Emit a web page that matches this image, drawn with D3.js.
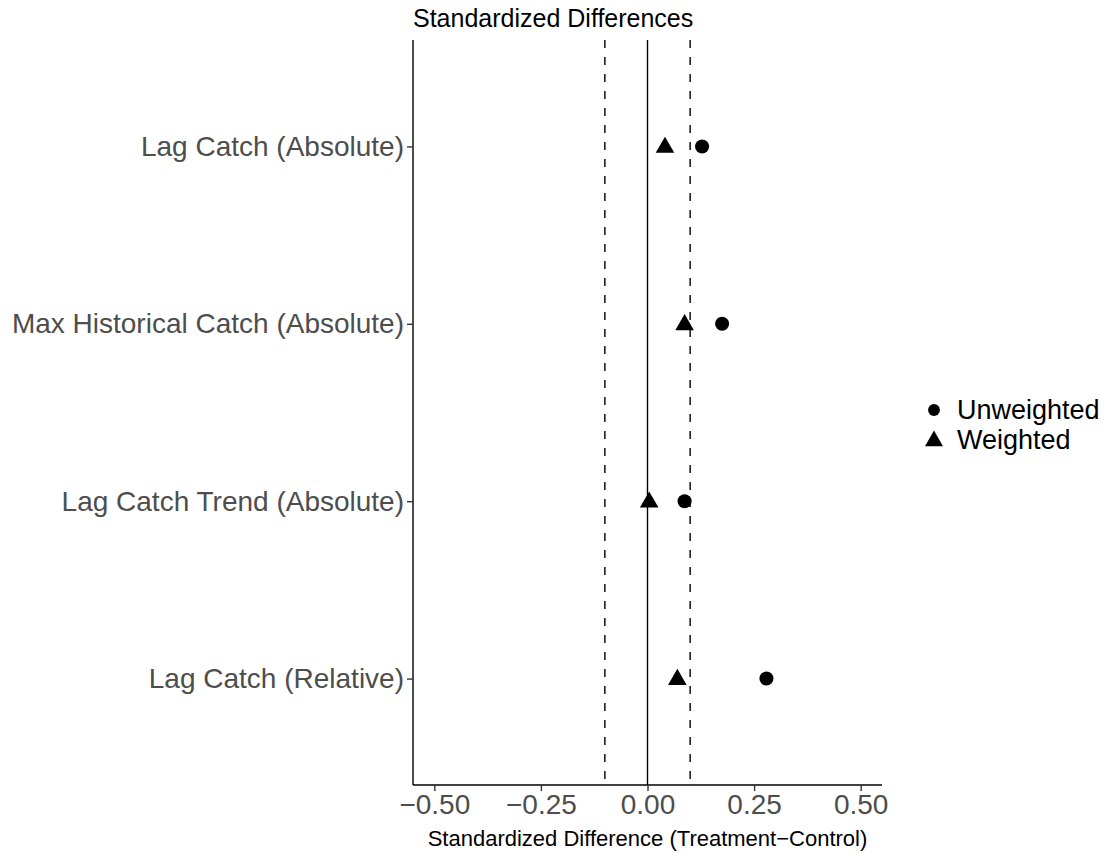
<!DOCTYPE html>
<html>
<head>
<meta charset="utf-8">
<script src="https://cdn.jsdelivr.net/npm/d3@7"></script>
<style>
  body { margin: 0; background: #fff; }
  svg { display: block; font-family: "Liberation Sans", Arial, Helvetica, sans-serif; }
</style>
</head>
<body>
<svg id="chart" width="1110" height="853"></svg>
<script>
// Covariates, top to bottom
const covariates = [
  "Lag Catch (Absolute)",
  "Max Historical Catch (Absolute)",
  "Lag Catch Trend (Absolute)",
  "Lag Catch (Relative)"
];
// Standardized differences before and after weighting
const unweighted = [0.128, 0.175, 0.087, 0.279];
const weighted   = [0.041, 0.087, 0.004, 0.070];
const xTicks = [-0.50, -0.25, 0.00, 0.25, 0.50];
const thresholds = [-0.1, 0.1];
const seriesNames = ["Unweighted", "Weighted"];

const svg = d3.select("#chart");
const panel = { left: 413, right: 882, top: 40, bottom: 785 };

const x = d3.scaleLinear().domain([-0.55, 0.55]).range([panel.left, panel.right]);
const y = d3.scalePoint().domain(covariates).range([panel.top, panel.bottom]).padding(0.6);

const circle = d3.symbol().type(d3.symbolCircle);
const triangle = d3.symbol().type(d3.symbolTriangle);

// reference lines
svg.append("line")
  .attr("x1", x(0)).attr("x2", x(0))
  .attr("y1", panel.top).attr("y2", panel.bottom)
  .attr("stroke", "#000").attr("stroke-width", 1.4);
svg.selectAll("line.thr").data(thresholds).join("line")
  .attr("class", "thr")
  .attr("x1", d => x(d)).attr("x2", d => x(d))
  .attr("y1", panel.top).attr("y2", panel.bottom)
  .attr("stroke", "#000").attr("stroke-width", 1.4)
  .attr("stroke-dasharray", "8,9");

// x axis
const xAxis = svg.append("g")
  .attr("transform", `translate(0,${panel.bottom})`)
  .call(d3.axisBottom(x).tickValues(xTicks).tickFormat(d3.format(".2f")).tickSizeOuter(0).tickSize(6).tickPadding(3));
// y axis
const yAxis = svg.append("g")
  .attr("transform", `translate(${panel.left},0)`)
  .call(d3.axisLeft(y).tickSizeOuter(0).tickSize(6).tickPadding(3));

[xAxis, yAxis].forEach(g => {
  g.select(".domain").attr("stroke", "#000").attr("stroke-width", 1.4);
  g.selectAll(".tick line").attr("stroke", "#333").attr("stroke-width", 1.4);
  g.selectAll(".tick text").attr("fill", "#4D4D4D").attr("font-size", 28)
    .attr("font-family", "Liberation Sans, Arial, sans-serif");
});
xAxis.select(".domain").attr("d", `M${panel.left},0H${panel.right}`);
yAxis.select(".domain").attr("d", `M0,${panel.top}V${panel.bottom}`);

// points
svg.selectAll("path.unw").data(covariates).join("path")
  .attr("class", "unw")
  .attr("d", circle.size(155))
  .attr("transform", (d, i) => `translate(${x(unweighted[i])},${y(d)})`)
  .attr("fill", "#000");
svg.selectAll("path.wtd").data(covariates).join("path")
  .attr("class", "wtd")
  .attr("d", triangle.size(150))
  .attr("transform", (d, i) => `translate(${x(weighted[i])},${y(d) + 1})`)
  .attr("fill", "#000");

// title
svg.append("text")
  .attr("x", panel.left).attr("y", 27)
  .attr("font-size", 25).attr("fill", "#000")
  .text("Standardized Differences");

// x axis title
svg.append("text")
  .attr("x", (panel.left + panel.right) / 2).attr("y", 846)
  .attr("text-anchor", "middle")
  .attr("font-size", 22).attr("fill", "#000")
  .text("Standardized Difference (Treatment\u2212Control)");

// legend
const legend = svg.append("g").attr("transform", "translate(934,410)");
const shapes = [circle.size(110), triangle.size(140)];
seriesNames.forEach((name, i) => {
  const row = legend.append("g").attr("transform", `translate(0,${i * 30})`);
  row.append("path").attr("d", shapes[i]).attr("fill", "#000")
    .attr("transform", i === 1 ? "translate(0,1)" : null);
  row.append("text").attr("x", 23).attr("y", 0).attr("dy", "0.35em")
    .attr("font-size", 27).attr("fill", "#000").text(name);
});
</script>
</body>
</html>
